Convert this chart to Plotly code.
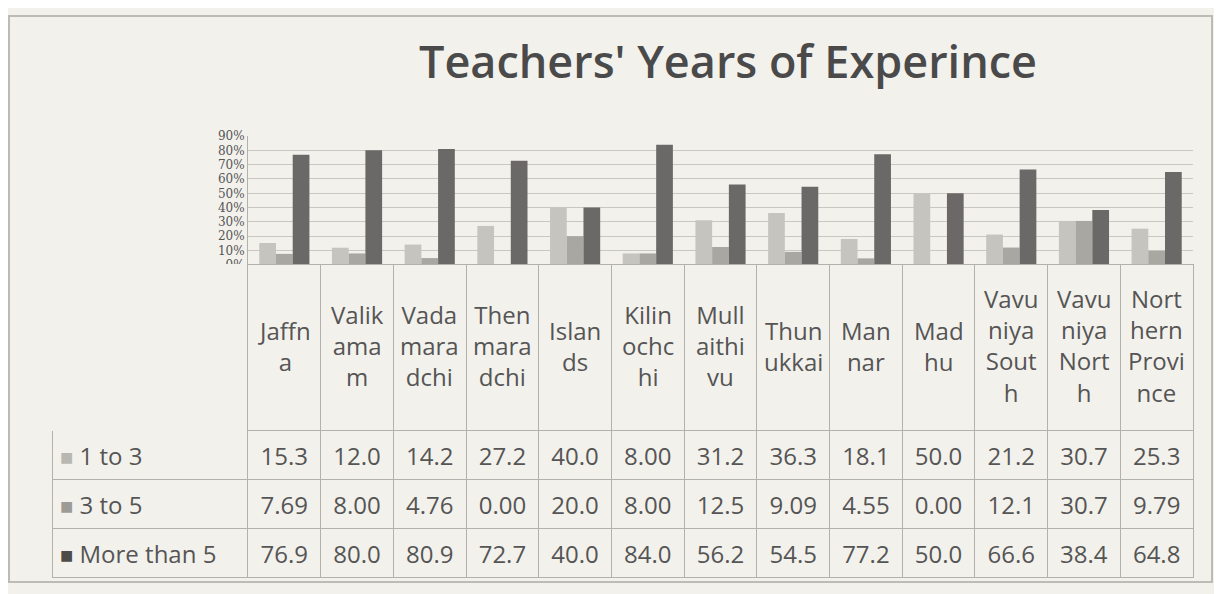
import plotly.graph_objects as go

# ---- data ----
categories = ["Jaffna", "Valikamam", "Vadamaradchi", "Thenmaradchi", "Islands",
              "Kilinochchi", "Mullaithivu", "Thunukkai", "Mannar", "Madhu",
              "Vavuniya South", "Vavuniya North", "Northern Province"]
category_labels = ["Jaffn<br>a", "Valik<br>ama<br>m", "Vada<br>mara<br>dchi",
                   "Then<br>mara<br>dchi", "Islan<br>ds", "Kilin<br>ochc<br>hi",
                   "Mull<br>aithi<br>vu", "Thun<br>ukkai", "Man<br>nar", "Mad<br>hu",
                   "Vavu<br>niya<br>Sout<br>h", "Vavu<br>niya<br>Nort<br>h",
                   "Nort<br>hern<br>Provi<br>nce"]
series_names = ["1 to 3", "3 to 5", "More than 5"]
one_to_three = [15.3, 12.0, 14.2, 27.2, 40.0, 8.00, 31.2, 36.3, 18.1, 50.0, 21.2, 30.7, 25.3]
three_to_five = [7.69, 8.00, 4.76, 0.00, 20.0, 8.00, 12.5, 9.09, 4.55, 0.00, 12.1, 30.7, 9.79]
more_than_five = [76.9, 80.0, 80.9, 72.7, 40.0, 84.0, 56.2, 54.5, 77.2, 50.0, 66.6, 38.4, 64.8]
y_ticks = [0, 10, 20, 30, 40, 50, 60, 70, 80, 90]
title_text = "Teachers' Years of Experince"

# ---- styles ----
PAGE_OFF = 8            # browser body margin
W, H = 1214, 586
BG = "#f3f1ec"
TXT = "#555555"
GRID = "#c9c7c2"
LINE = "#b3b1ac"
bar_colors = ["#c6c4bf", "#a9a7a2", "#6b6967"]
legend_colors = ["#b9b7b2", "#9d9b96", "#4e4c4a"]
FONT = "Open Sans"
NBSP = "\u00a0"


def px_x(p):
    return (p - PAGE_OFF) / W


def px_y(p):
    return 1 - (p - PAGE_OFF) / H


series = [one_to_three, three_to_five, more_than_five]

fig = go.Figure()
for name, vals, col in zip(series_names, series, bar_colors):
    fig.add_trace(go.Bar(x=categories, y=vals, name=name, marker_color=col,
                         marker_line_width=0, showlegend=False))


def fmt(v):
    # trailing <br> keeps the table from re-wrapping and lowers the text to mid-row
    return (f"{v:.1f}" if v >= 10 else f"{v:.2f}") + "<br>"


first_col = [f"<span style='color:{c};font-size:22px'>■</span>{NBSP}{n}<br>"
             for n, c in zip(series_names, legend_colors)]
cols = [first_col] + [[fmt(s[i]) for s in series] for i in range(len(categories))]

ncat = len(categories)
fig.add_trace(go.Table(
    domain=dict(x=[px_x(52), px_x(1193)], y=[px_y(592), px_y(264)]),
    columnwidth=[196] + [72.7] * ncat,
    header=dict(values=[""] * (ncat + 1), height=166,
                fill_color=BG,
                line=dict(color=[BG] + [LINE] * ncat, width=1)),
    cells=dict(values=cols, height=48,
               align=["left"] + ["center"] * ncat,
               fill_color=BG,
               line=dict(color=LINE, width=1),
               font=dict(family=FONT, size=24, color=TXT)),
))

annotations = []
for cat, lab in zip(categories, category_labels):
    annotations.append(dict(x=cat, xref="x", y=px_y(347), yref="paper",
                            text=lab, showarrow=False, xanchor="center",
                            yanchor="middle", align="center",
                            font=dict(family=FONT, size=24, color=TXT)))

fig.update_layout(
    width=W, height=H,
    margin=dict(l=0, r=0, t=0, b=0),
    paper_bgcolor=BG, plot_bgcolor=BG,
    barmode="group", bargap=0.31, bargroupgap=0,
    title=dict(text=title_text, x=px_x(728), xanchor="center", y=px_y(62), yanchor="middle",
               font=dict(family=FONT, size=45, color="#4a4a4a", weight=600)),
    xaxis=dict(domain=[px_x(248), px_x(1193)], showticklabels=False, showgrid=False,
               zeroline=False, showline=False, ticks=""),
    yaxis=dict(domain=[px_y(264), px_y(132)], range=[0, 90], tickvals=y_ticks,
               ticktext=[f"{v}%" for v in y_ticks],
               showgrid=True, gridcolor=GRID, gridwidth=1,
               zeroline=False, showline=True, linecolor=LINE, linewidth=1,
               tickfont=dict(family="DejaVu Serif", size=12, color=TXT)),
    annotations=annotations,
    shapes=[dict(type="rect", xref="paper", yref="paper",
                 x0=px_x(9), x1=px_x(1212), y0=px_y(589), y1=px_y(9),
                 line=dict(color="#bdbbb6", width=2))],
)

fig.write_html("out.html")
